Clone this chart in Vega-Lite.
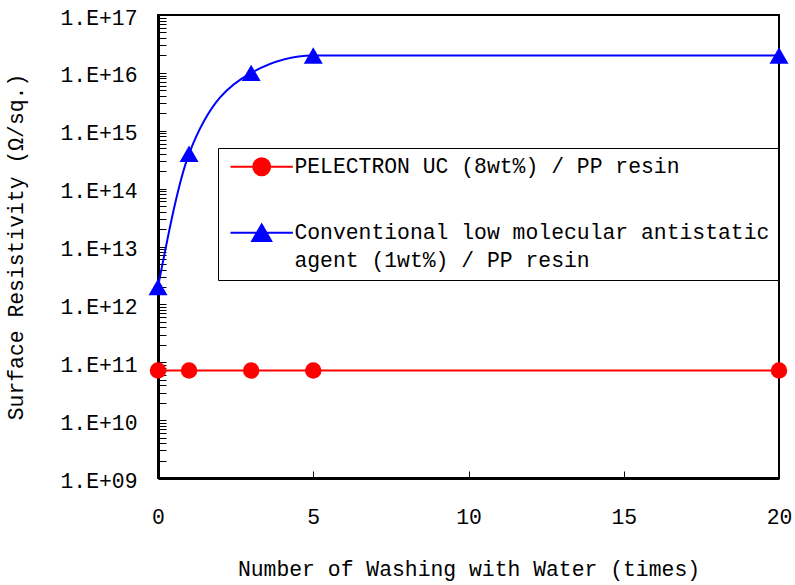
{
  "$schema": "https://vega.github.io/schema/vega-lite/v6.json",
  "autosize": {"type": "none"},
  "padding": {"left": 158, "top": 15, "right": 16, "bottom": 107},
  "width": 621,
  "height": 463,
  "background": "white",
  "config": {
    "view": {"stroke": "black", "strokeWidth": 2},
    "font": "Liberation Mono"
  },
  "data": {
    "values": [
      {"times": 0, "resistivity": 7.2e10, "series": "PELECTRON UC (8wt%) / PP resin"},
      {"times": 1, "resistivity": 7.2e10, "series": "PELECTRON UC (8wt%) / PP resin"},
      {"times": 3, "resistivity": 7.2e10, "series": "PELECTRON UC (8wt%) / PP resin"},
      {"times": 5, "resistivity": 7.2e10, "series": "PELECTRON UC (8wt%) / PP resin"},
      {"times": 20, "resistivity": 7.2e10, "series": "PELECTRON UC (8wt%) / PP resin"},
      {"times": 0, "resistivity": 2.0e12, "series": "Conventional low molecular antistatic agent (1wt%) / PP resin"},
      {"times": 1, "resistivity": 4.0e14, "series": "Conventional low molecular antistatic agent (1wt%) / PP resin"},
      {"times": 3, "resistivity": 1.0e16, "series": "Conventional low molecular antistatic agent (1wt%) / PP resin"},
      {"times": 5, "resistivity": 2.0e16, "series": "Conventional low molecular antistatic agent (1wt%) / PP resin"},
      {"times": 20, "resistivity": 2.0e16, "series": "Conventional low molecular antistatic agent (1wt%) / PP resin"}
    ]
  },
  "resolve": {"axis": {"x": "independent", "y": "independent"}},
  "encoding": {
    "x": {
      "field": "times", "type": "quantitative",
      "scale": {"domain": [0, 20], "nice": false, "zero": false},
      "axis": {
        "title": "Number of Washing with Water (times)",
        "values": [0, 5, 10, 15, 20],
        "grid": false,
        "domainColor": "black", "domainWidth": 3,
        "ticks": false,
        "labelFont": "Liberation Mono", "labelFontSize": 21.4, "labelColor": "black",
        "labelPadding": 28, "labelFlush": false, "labelOverlap": false,
        "titleFont": "Liberation Mono", "titleFontSize": 21.4, "titleFontWeight": "normal",
        "titleColor": "black", "titlePadding": 31
      }
    },
    "y": {
      "field": "resistivity", "type": "quantitative",
      "scale": {"type": "log", "domain": [1e9, 1e17], "nice": false},
      "axis": {
        "title": "Surface Resistivity (Ω/sq.)",
        "values": [1e9,1e10,1e11,1e12,1e13,1e14,1e15,1e16,1e17],
        "labelExpr": "'1.E+' + (round(log(datum.value)/LN10) < 10 ? '0' : '') + round(log(datum.value)/LN10)",
        "grid": false,
        "domainColor": "black", "domainWidth": 3,
        "ticks": false,
        "labelFont": "Liberation Mono", "labelFontSize": 21.4, "labelColor": "black",
        "labelPadding": 21, "labelOverlap": false, "labelFlush": false, "labelBound": false,
        "labelOffset": 3,
        "titleFont": "Liberation Mono", "titleFontSize": 21.4, "titleFontWeight": "normal",
        "titleColor": "black", "titlePadding": 33
      }
    },
    "color": {
      "field": "series", "type": "nominal",
      "scale": {
        "domain": ["PELECTRON UC (8wt%) / PP resin", "Conventional low molecular antistatic agent (1wt%) / PP resin"],
        "range": ["#FF0000", "#0000FF"]
      },
      "legend": {
        "title": null,
        "orient": "none",
        "legendX": 60,
        "legendY": 133,
        "padding": 8,
        "strokeColor": "black",
        "fillColor": "white",
        "symbolSize": 256,
        "symbolStrokeWidth": 2,
        "symbolOffset": 25,
        "labelFont": "Liberation Mono",
        "labelFontSize": 21.4,
        "labelColor": "black",
        "labelLimit": 0,
        "labelOffset": 22,
        "rowPadding": 40,
        "labelExpr": "datum.label == 'Conventional low molecular antistatic agent (1wt%) / PP resin' ? ['Conventional low molecular antistatic', 'agent (1wt%) / PP resin'] : datum.label",
        "encode": {
          "symbols": {
            "update": {
              "shape": [{"test": "datum.value == 'PELECTRON UC (8wt%) / PP resin'", "value": "M-3.9,0L3.9,0M1.06,0A1.06,1.06,0,1,1,-1.06,0A1.06,1.06,0,1,1,1.06,0Z"}, {"value": "M-3.9,0L3.9,0M0,-1.03L1.19,1.03L-1.19,1.03Z"}],
              "fill": [{"test": "datum.value == 'PELECTRON UC (8wt%) / PP resin'", "value": "#FF0000"}, {"value": "#0000FF"}],
              "stroke": [{"test": "datum.value == 'PELECTRON UC (8wt%) / PP resin'", "value": "#FF0000"}, {"value": "#0000FF"}],
              "strokeWidth": {"value": 2},
              "size": {"value": 256},
              "opacity": {"value": 1},
              "fillOpacity": {"value": 1},
              "strokeOpacity": {"value": 1}
            }
          },
          "labels": {
            "update": {
              "lineHeight": {"value": 28}
            }
          }
        }
      }
    }
  },
  "layer": [
    {
      "mark": {"type": "line", "interpolate": "monotone", "strokeWidth": 2}
    },
    {
      "transform": [{"filter": "datum.series == 'PELECTRON UC (8wt%) / PP resin'"}],
      "mark": {"type": "point", "shape": "circle", "size": 270, "filled": true, "opacity": 1},
      "encoding": {
        "x": {"field": "times", "type": "quantitative", "scale": {"domain": [0, 20], "nice": false, "zero": false}, "axis": null},
        "y": {"field": "resistivity", "type": "quantitative", "scale": {"type": "log", "domain": [1e9, 1e17], "nice": false}, "axis": null}
      }
    },
    {
      "transform": [{"filter": "datum.series == 'Conventional low molecular antistatic agent (1wt%) / PP resin'"}],
      "mark": {"type": "point", "shape": "triangle-up", "size": 361, "filled": true, "opacity": 1},
      "encoding": {
        "x": {
          "field": "times", "type": "quantitative",
          "scale": {"domain": [0, 20], "nice": false, "zero": false},
          "axis": {
            "orient": "top", "offset": -463, "title": null, "labels": false, "domain": false, "grid": false,
            "values": [0, 5, 10, 15, 20], "ticks": true, "tickSize": 7, "tickColor": "black"
          }
        },
        "y": {
          "field": "resistivity", "type": "quantitative",
          "scale": {"type": "log", "domain": [1e9, 1e17], "nice": false},
          "axis": {
            "orient": "right", "offset": -621, "title": null, "labels": false, "domain": false, "grid": false,
            "values": [1e9,2e9,3e9,4e9,5e9,6e9,7e9,8e9,9e9,1e10,2e10,3e10,4e10,5e10,6e10,7e10,8e10,9e10,1e11,2e11,3e11,4e11,5e11,6e11,7e11,8e11,9e11,1e12,2e12,3e12,4e12,5e12,6e12,7e12,8e12,9e12,1e13,2e13,3e13,4e13,5e13,6e13,7e13,8e13,9e13,1e14,2e14,3e14,4e14,5e14,6e14,7e14,8e14,9e14,1e15,2e15,3e15,4e15,5e15,6e15,7e15,8e15,9e15,1e16,2e16,3e16,4e16,5e16,6e16,7e16,8e16,9e16,1e17],
            "ticks": true, "tickSize": 8, "tickColor": "black"
          }
        }
      }
    }
  ]
}
